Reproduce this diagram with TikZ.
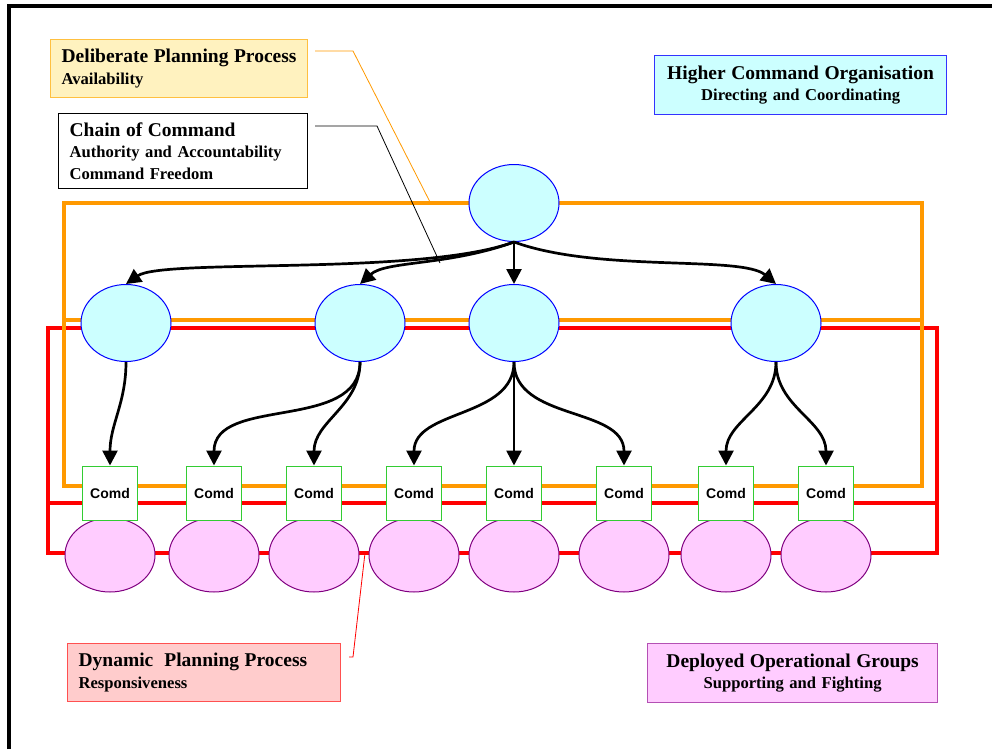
\documentclass[tikz,border=0pt]{standalone}
\usepackage{fontspec}
\setmainfont{Liberation Serif}
\setsansfont{Liberation Sans}
\usetikzlibrary{arrows.meta,positioning,shapes.geometric}
\definecolor{hqfill}{RGB}{204,255,255}
\definecolor{hqline}{RGB}{0,0,255}
\definecolor{grpfill}{RGB}{255,204,255}
\definecolor{grpline}{RGB}{128,0,128}
\definecolor{comdline}{RGB}{51,204,51}
\definecolor{plan}{RGB}{255,153,0}
\definecolor{planfill}{RGB}{255,242,191}
\definecolor{planline}{RGB}{255,192,64}
\definecolor{dyn}{RGB}{255,0,0}
\definecolor{dynfill}{RGB}{255,204,204}
\definecolor{dynline}{RGB}{255,80,80}
\definecolor{depline}{RGB}{180,80,180}
\newcommand\ttl[1]{{\fontsize{19.5}{21.5}\selectfont #1}}
\tikzset{
  every picture/.style={x=1pt, y=-1pt, line width=1pt},
  hq/.style={ellipse, draw=hqline, fill=hqfill, minimum width=90pt, minimum height=77pt, inner sep=0pt},
  grp/.style={ellipse, draw=grpline, fill=grpfill, minimum width=90pt, minimum height=74pt, inner sep=0pt},
  comd/.style={draw=comdline, fill=white, minimum width=55pt, minimum height=54pt, inner sep=0pt,
    font=\sffamily\bfseries\fontsize{14}{16}\selectfont},
  cmd/.style={-{Triangle[length=15pt,width=15pt]}, line width=2.7pt},
  band/.style={line width=4pt},
  lead/.style={line width=0.8pt},
  callout/.style={draw, line width=1.2pt, anchor=north west, inner xsep=11pt, inner ysep=3pt,
    font=\bfseries\fontsize{16.6}{21.5}\selectfont},
}

\begin{document}
\begin{tikzpicture}
  \useasboundingbox (0,0) rectangle (992,749);
  \draw[line width=3.5pt] (9,749) -- (9,6) -- (992,6);

  % planning bands, drawn first so the nodes sit on them
  \draw[band, dyn] (48,328) rectangle (937,553);
  \draw[band, dyn] (48,503) -- (937,503);
  \draw[band, plan] (64,203) rectangle (922,486);
  \draw[band, plan] (64,320) -- (922,320);

  % command tree
  \node[hq] (h0) at (514,203) {};
  \node[hq] (h1) at (126,323) {};
  \node[hq] (h2) at (360,323) {};
  \node[hq] (h3) at (514,323) {};
  \node[hq] (h4) at (776,323) {};
  \foreach \x [count=\i] in {110,214,314,414,514,624,726,826} {
    \node[grp] (g\i) at (\x,555) {};
    \node[comd] (c\i) at (\x,493) {Comd};
  }

  \draw[cmd] (h0.south) to[out=200,in=35,out distance=100pt,in distance=45pt] (h1.north);
  \draw[cmd] (h0.south) to[out=200,in=42,out distance=70pt,in distance=35pt] (h2.north);
  \draw[cmd] (h0.south) -- (h3.north);
  \draw[cmd] (h0.south) to[out=-20,in=140,out distance=90pt,in distance=45pt] (h4.north);
  \foreach \p/\c in {h1/c1, h2/c2, h2/c3, h3/c4, h3/c5, h3/c6, h4/c7, h4/c8}
    \draw[cmd] (\p.south) to[out=-90,in=90] (\c.north);

  % callouts
  \node[callout, draw=planline, fill=planfill, minimum width=257pt, minimum height=58pt, text width=235pt, align=left]
    (dpp) at (50,39) {\ttl{Deliberate Planning Process}\\ Availability};
  \node[callout, draw=black, fill=white, minimum width=249pt, minimum height=75pt, text width=227pt, align=left]
    (coc) at (58,113) {\ttl{Chain of Command}\\ Authority and Accountability\\ Command Freedom};
  \node[callout, draw=hqline!80, fill=hqfill, minimum width=292pt, minimum height=59pt, text width=270pt, align=center]
    (hco) at (654,55) {\ttl{Higher Command Organisation}\\ Directing and Coordinating};
  \node[callout, draw=dynline, fill=dynfill, minimum width=273pt, minimum height=58pt, text width=251pt, align=left]
    (dyp) at (67,643) {\ttl{Dynamic\ \ Planning Process}\\ Responsiveness};
  \node[callout, draw=depline, fill=grpfill, minimum width=290pt, minimum height=59pt, text width=268pt, align=center]
    (dog) at (647,643) {\ttl{Deployed Operational Groups}\\ Supporting and Fighting};

  % leader lines
  \coordinate (dppA) at (315,51);
  \coordinate (dppB) at (353,51);
  \coordinate (dppC) at (430,202);
  \draw[lead, plan] (dppA) -- (dppB) -- (dppC);
  \coordinate (cocA) at (315,126);
  \coordinate (cocB) at (377,126);
  \coordinate (cocC) at (440,263);
  \draw[lead] (cocA) -- (cocB) -- (cocC);
  \coordinate (dypA) at (349,657);
  \coordinate (dypB) at (353,657);
  \coordinate (dypC) at (365,553);
  \draw[lead, dyn] (dypA) -- (dypB) -- (dypC);
\end{tikzpicture}
\end{document}
